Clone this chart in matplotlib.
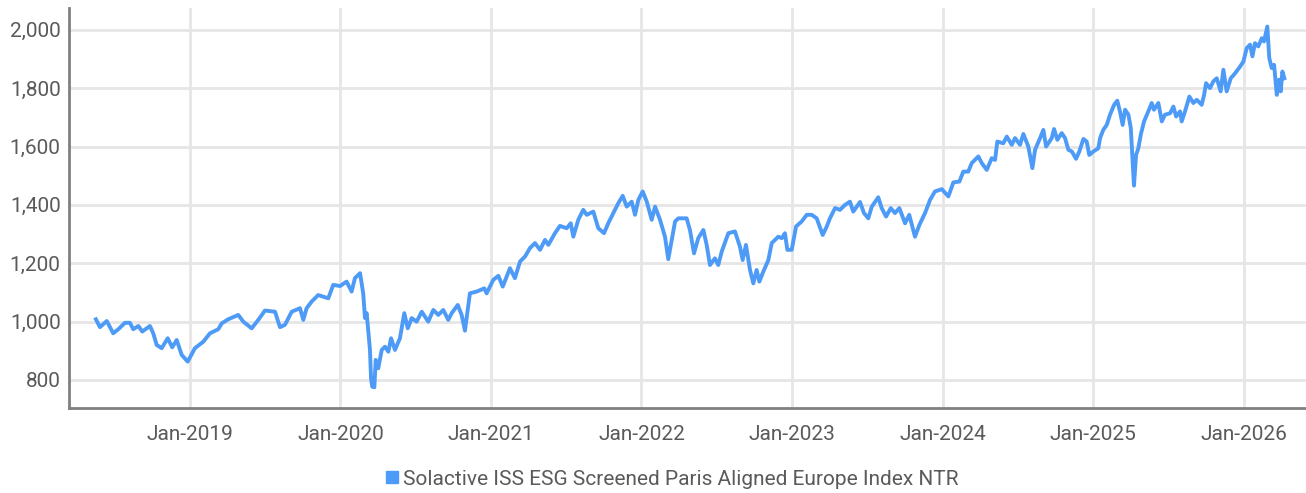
import matplotlib
matplotlib.use("Agg")
import matplotlib.pyplot as plt
from matplotlib.lines import Line2D

# index level (NTR); time as decimal year
t_year = [
    2018.375, 2018.402, 2018.447, 2018.490, 2018.524, 2018.568, 2018.601, 2018.623,
    2018.657, 2018.683, 2018.734, 2018.756, 2018.779, 2018.812, 2018.852, 2018.882,
    2018.912, 2018.945, 2018.985, 2019.033, 2019.088, 2019.133, 2019.188, 2019.211,
    2019.254, 2019.321, 2019.354, 2019.410, 2019.454, 2019.498, 2019.565, 2019.598,
    2019.631, 2019.676, 2019.731, 2019.753, 2019.775, 2019.809, 2019.852, 2019.919,
    2019.952, 2019.997, 2020.041, 2020.074, 2020.096, 2020.130, 2020.151, 2020.163,
    2020.174, 2020.196, 2020.203, 2020.211, 2020.225, 2020.234, 2020.251, 2020.274,
    2020.296, 2020.318, 2020.336, 2020.362, 2020.395, 2020.424, 2020.447, 2020.473,
    2020.506, 2020.540, 2020.583, 2020.617, 2020.650, 2020.683, 2020.716, 2020.739,
    2020.779, 2020.805, 2020.827, 2020.845, 2020.860, 2020.905, 2020.955, 2020.971,
    2021.015, 2021.049, 2021.078, 2021.126, 2021.159, 2021.193, 2021.226, 2021.259,
    2021.292, 2021.326, 2021.359, 2021.381, 2021.425, 2021.458, 2021.503, 2021.530,
    2021.547, 2021.580, 2021.613, 2021.636, 2021.680, 2021.713, 2021.751, 2021.779,
    2021.813, 2021.846, 2021.875, 2021.902, 2021.935, 2021.957, 2021.979, 2022.008,
    2022.035, 2022.068, 2022.090, 2022.123, 2022.156, 2022.178, 2022.201, 2022.223,
    2022.245, 2022.300, 2022.322, 2022.349, 2022.377, 2022.411, 2022.433, 2022.455,
    2022.488, 2022.510, 2022.533, 2022.577, 2022.621, 2022.654, 2022.672, 2022.694,
    2022.721, 2022.743, 2022.765, 2022.783, 2022.809, 2022.843, 2022.865, 2022.909,
    2022.932, 2022.953, 2022.969, 2022.998, 2023.027, 2023.064, 2023.098, 2023.131,
    2023.164, 2023.204, 2023.231, 2023.252, 2023.286, 2023.319, 2023.352, 2023.385,
    2023.407, 2023.452, 2023.478, 2023.507, 2023.530, 2023.573, 2023.596, 2023.625,
    2023.656, 2023.684, 2023.713, 2023.751, 2023.779, 2023.817, 2023.846, 2023.884,
    2023.917, 2023.950, 2023.995, 2024.039, 2024.072, 2024.112, 2024.138, 2024.171,
    2024.194, 2024.238, 2024.261, 2024.294, 2024.327, 2024.349, 2024.364, 2024.404,
    2024.427, 2024.460, 2024.482, 2024.515, 2024.537, 2024.570, 2024.597, 2024.615,
    2024.648, 2024.670, 2024.688, 2024.726, 2024.741, 2024.763, 2024.792, 2024.814,
    2024.836, 2024.859, 2024.887, 2024.909, 2024.936, 2024.958, 2024.975, 2025.002,
    2025.035, 2025.047, 2025.068, 2025.091, 2025.113, 2025.140, 2025.161, 2025.179,
    2025.197, 2025.213, 2025.235, 2025.251, 2025.264, 2025.272, 2025.286, 2025.301,
    2025.317, 2025.339, 2025.367, 2025.390, 2025.405, 2025.434, 2025.457, 2025.478,
    2025.512, 2025.534, 2025.552, 2025.578, 2025.589, 2025.611, 2025.640, 2025.667,
    2025.689, 2025.722, 2025.738, 2025.751, 2025.777, 2025.799, 2025.822, 2025.848,
    2025.866, 2025.888, 2025.915, 2025.944, 2025.977, 2025.999, 2026.021, 2026.043,
    2026.059, 2026.076, 2026.098, 2026.121, 2026.136, 2026.158, 2026.171, 2026.187,
    2026.203, 2026.221, 2026.236, 2026.247, 2026.258, 2026.271,
]
index_ntr = [
    1008, 981, 1002, 960, 974, 996, 996, 974,
    985, 966, 985, 960, 920, 909, 943, 912,
    937, 886, 863, 909, 931, 960, 974, 994,
    1008, 1023, 1000, 977, 1006, 1038, 1034, 981,
    989, 1034, 1046, 1006, 1046, 1069, 1091, 1080,
    1126, 1122, 1137, 1103, 1149, 1166, 1097, 1012,
    1029, 903, 806, 777, 775, 869, 840, 903,
    914, 897, 943, 903, 943, 1029, 977, 1012,
    1000, 1034, 1000, 1040, 1023, 1040, 1006, 1029,
    1057, 1023, 969, 1040, 1097, 1103, 1114, 1097,
    1143, 1157, 1120, 1183, 1149, 1206, 1223, 1252,
    1269, 1246, 1280, 1263, 1303, 1328, 1320, 1337,
    1291, 1349, 1383, 1366, 1377, 1320, 1303, 1337,
    1372, 1406, 1431, 1394, 1411, 1366, 1417, 1446,
    1411, 1349, 1394, 1349, 1291, 1214, 1280, 1343,
    1354, 1354, 1314, 1234, 1286, 1314, 1263, 1194,
    1217, 1194, 1240, 1303, 1309, 1257, 1211, 1263,
    1177, 1131, 1177, 1137, 1171, 1211, 1269, 1291,
    1286, 1303, 1246, 1246, 1326, 1343, 1366, 1366,
    1354, 1297, 1326, 1354, 1389, 1383, 1400, 1411,
    1377, 1410, 1372, 1354, 1394, 1426, 1389, 1360,
    1389, 1372, 1389, 1337, 1366, 1291, 1331, 1372,
    1417, 1446, 1454, 1429, 1477, 1480, 1514, 1514,
    1543, 1566, 1543, 1520, 1560, 1554, 1617, 1611,
    1634, 1606, 1629, 1606, 1643, 1600, 1526, 1589,
    1629, 1657, 1600, 1629, 1660, 1623, 1646, 1629,
    1589, 1583, 1558, 1583, 1626, 1617, 1571, 1583,
    1594, 1629, 1657, 1674, 1709, 1743, 1757, 1720,
    1674, 1726, 1709, 1663, 1537, 1466, 1571, 1594,
    1640, 1686, 1720, 1749, 1726, 1749, 1686, 1709,
    1714, 1737, 1703, 1720, 1686, 1720, 1771, 1749,
    1760, 1743, 1777, 1817, 1800, 1823, 1834, 1789,
    1863, 1789, 1834, 1851, 1874, 1891, 1937, 1949,
    1909, 1954, 1943, 1971, 1960, 2011, 1903, 1869,
    1880, 1777, 1829, 1789, 1857, 1834,
]

years = [2019, 2020, 2021, 2022, 2023, 2024, 2025, 2026]
year_labels = ["Jan-%d" % y for y in years]
y_ticks = [800, 1000, 1200, 1400, 1600, 1800, 2000]
series_name = "Solactive ISS ESG Screened Paris Aligned Europe Index NTR"

line_color = "#4d9bf7"
text_color = "#5a5a5a"
grid_color = "#e6e6e6"
spine_color = "#808080"

plt.rcParams["font.family"] = ["Roboto", "DejaVu Sans"]

fig = plt.figure(figsize=(13.06, 4.93), dpi=100)
ax = fig.add_axes([0.0528, 0.1718, 0.9472, 0.811])

ax.plot(t_year, index_ntr, color=line_color, linewidth=2.8, zorder=3)

ax.set_xlim(2018.196, 2026.415)
ax.set_ylim(703, 2073)
ax.set_xticks(years)
ax.set_xticklabels(year_labels)
ax.set_yticks(y_ticks)
ax.set_yticklabels(["{:,}".format(v) for v in y_ticks])

ax.grid(True, color=grid_color, linewidth=2, zorder=1)
ax.set_axisbelow(True)
ax.tick_params(axis="both", length=0, labelsize=15, labelcolor=text_color)
ax.tick_params(axis="x", pad=12)
ax.tick_params(axis="y", pad=6)

for side in ["top", "right"]:
    ax.spines[side].set_visible(False)
for side in ["left", "bottom"]:
    ax.spines[side].set_color(spine_color)
    ax.spines[side].set_linewidth(2)

handle = Line2D([], [], linestyle="none", marker="s", markersize=8,
                color=line_color)
fig.legend([handle], [series_name], loc="center", bbox_to_anchor=(0.514, 0.028),
           frameon=False, fontsize=15, labelcolor=text_color,
           handletextpad=0.1, handlelength=0.8)

fig.savefig("out.png", dpi=100)
